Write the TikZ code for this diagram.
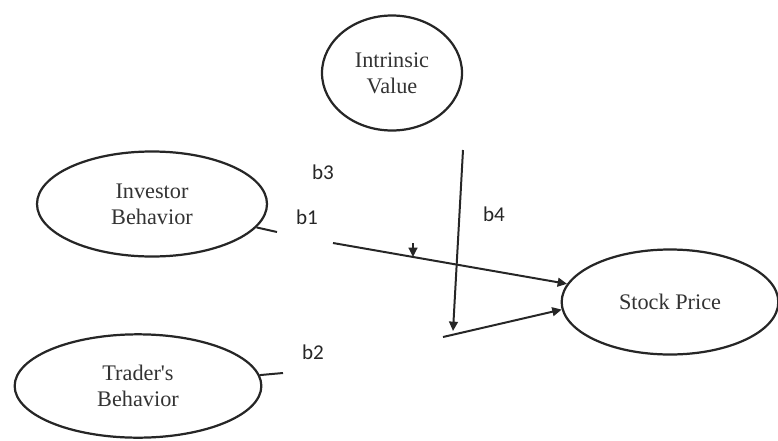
\documentclass[tikz,border=0pt]{standalone}
\usepackage{fontspec}
\setmainfont{Liberation Serif}[Ligatures=TeXOff]
\newfontfamily\labelfont{Carlito}
\usetikzlibrary{shapes.geometric,arrows.meta}
\begin{document}
\begin{tikzpicture}[
  x=0.03cm, y=-0.03cm,
  oval/.style={draw=black!85, ellipse, line width=1.9pt, inner sep=0pt, align=center, text=black!80,
    font=\fontsize{19}{22}\selectfont},
  blab/.style={font=\labelfont\fontsize{18}{20}\selectfont, text=black!85},
  arr/.style={-{Triangle[length=8pt,width=7.5pt]}, line width=1.7pt, draw=black!85},
  stub/.style={line width=1.7pt, draw=black!85}
]
\useasboundingbox (0,0) rectangle (778,440);
\node[oval, minimum width=4.2cm, minimum height=3.45cm] (iv) at (392,73) {Intrinsic\\Value};
\node[oval, minimum width=6.9cm, minimum height=3.15cm] (inv) at (152,204) {Investor\\Behavior};
\node[oval, minimum width=7.4cm, minimum height=3.1cm] (trd) at (138,386) {Trader's\\Behavior};
\node[oval, minimum width=6.5cm, minimum height=3.15cm] (stock) at (670,302) {Stock Price};
\node[blab] (b3) at (323,172) {b3};
\node[blab] (b1) at (307,217) {b1};
\node[blab] (b4) at (494,214) {b4};
\node[blab] (b2) at (313,352) {b2};
\coordinate (ie) at (277,232);
\coordinate (te) at (283,373);
\coordinate (ms) at (333,243);
\coordinate (ks) at (413,243);
\coordinate (kt) at (413,257);
\coordinate (vs) at (463,150);
\coordinate (vt) at (453,331);
\coordinate (ls) at (443,337);
\draw[stub] (inv) -- (ie);
\draw[stub] (trd) -- (te);
\draw[arr] (ms) -- (stock.170);
\draw[arr] (ks) -- (kt);
\draw[arr] (vs) -- (vt);
\draw[arr] (ls) -- (stock.184);
\end{tikzpicture}
\end{document}
